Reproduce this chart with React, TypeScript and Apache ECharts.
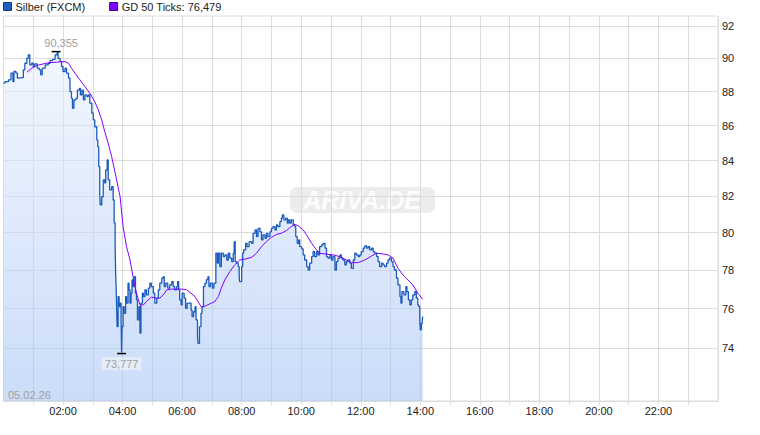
import React, { useEffect, useRef } from "react";
import * as echarts from "echarts";

// Silver price (FXCM), 05.02.26 — time in minutes since 00:00, price in USD
const priceTimes = [
  0, 3, 10, 15, 19, 21, 25, 28, 30, 37, 40, 43, 47, 50, 53, 57, 60, 63, 68, 72,
  75, 78, 84, 90, 94, 99, 104, 108, 110, 114, 117, 120, 124, 127, 131, 134, 137, 139, 142, 146,
  149, 153, 155, 158, 161, 164, 168, 171, 174, 178, 181, 184, 188, 190, 192, 194, 195, 198, 201, 204,
  206, 209, 211, 214, 218, 221, 223, 225, 226, 227, 228, 229, 231, 233, 235, 237, 238, 239, 241, 243,
  246, 248, 251, 253, 255, 257, 259, 261, 263, 266, 268, 270, 273, 275, 277, 280, 282, 285, 288, 292,
  295, 298, 302, 305, 309, 312, 315, 319, 322, 324, 327, 331, 335, 339, 342, 345, 349, 351, 353, 355,
  358, 360, 364, 367, 370, 374, 378, 380, 383, 386, 388, 391, 392, 395, 398, 400, 403, 406, 409, 412,
  414, 417, 421, 424, 428, 431, 433, 436, 439, 443, 446, 450, 453, 456, 460, 463, 465, 467, 470, 473,
  475, 476, 480, 482, 484, 488, 491, 495, 500, 503, 507, 510, 513, 517, 520, 523, 527, 530, 533, 537,
  540, 543, 547, 550, 553, 557, 560, 562, 565, 569, 572, 574, 577, 580, 584, 587, 589, 592, 595, 597,
  601, 604, 607, 611, 614, 617, 621, 624, 627, 631, 634, 637, 641, 644, 648, 651, 654, 658, 661, 664,
  668, 671, 674, 678, 681, 684, 688, 691, 694, 698, 701, 705, 708, 711, 715, 718, 721, 725, 728, 732,
  735, 738, 742, 745, 748, 752, 755, 758, 762, 765, 768, 772, 775, 778, 782, 785, 788, 792, 795, 799,
  801, 803, 807, 811, 813, 816, 819, 822, 825, 829, 832, 835, 837, 839, 840, 842, 844, 845,
];
const priceValues = [
  88.51, 88.6, 88.71, 89.11, 88.6, 89.21, 89.11, 88.81, 88.84, 88.84, 89.31, 89.71, 90.01, 90.22, 89.61, 89.71, 89.51, 89.67, 89.41, 89.31,
  89.01, 89.41, 89.61, 89.71, 89.87, 89.95, 90.22, 90.355, 90.01, 89.81, 89.51, 89.21, 89.41, 89.11, 88.81, 88.0, 87.61, 87.02, 87.51, 87.61,
  88.1, 88.2, 87.81, 88.1, 87.51, 87.81, 87.71, 87.81, 87.32, 86.73, 86.34, 85.94, 85.18, 84.79, 83.65, 82.16, 81.52, 81.97, 82.91, 82.74,
  83.47, 84.03, 82.91, 82.35, 82.53, 81.79, 80.53, 79.25, 77.85, 77.14, 76.1, 75.08, 76.62, 76.1, 76.28, 75.42, 73.777, 75.08, 76.1, 75.76,
  76.62, 76.28, 77.32, 76.97, 76.28, 76.8, 77.49, 77.14, 77.66, 76.8, 76.45, 75.42, 76.1, 74.75, 76.28, 76.8, 76.62, 76.97, 76.71, 77.06,
  77.32, 77.14, 76.8, 76.28, 76.54, 76.97, 77.32, 77.58, 77.66, 77.14, 77.32, 77.06, 77.23, 77.4, 77.14, 76.97, 77.14, 77.4, 76.97, 76.45,
  76.19, 76.8, 76.54, 76.02, 76.28, 76.28, 75.93, 75.59, 75.84, 76.1, 75.42, 74.57, 74.24, 75.08, 75.76, 76.1, 77.14, 77.32, 77.5, 77.66,
  77.14, 77.32, 77.06, 77.32, 78.9, 78.37, 78.9, 78.19, 78.9, 78.72, 78.81, 78.54, 78.9, 78.64, 78.45, 78.9, 79.52, 78.45, 78.37, 78.19,
  77.66, 77.4, 78.19, 78.9, 79.08, 79.43, 79.25, 79.52, 79.43, 79.97, 80.15, 79.79, 80.24, 80.05, 79.61, 79.88, 79.7, 79.97, 79.79, 80.05,
  80.24, 80.33, 80.15, 80.42, 80.33, 80.6, 80.79, 80.97, 80.7, 80.79, 80.52, 80.7, 80.52, 80.7, 80.42, 80.33, 79.79, 79.43, 79.61, 79.25,
  79.13, 78.81, 78.54, 78.19, 78.01, 78.37, 78.72, 78.99, 78.72, 78.99, 78.81, 79.25, 79.34, 79.43, 79.17, 78.72, 78.64, 78.81, 78.54, 78.72,
  78.01, 78.45, 78.64, 78.81, 78.64, 78.54, 78.28, 78.45, 78.54, 78.37, 78.1, 78.54, 78.9, 78.81, 78.72, 78.81, 78.99, 79.17, 79.29, 79.17,
  79.25, 79.08, 79.17, 78.99, 78.9, 78.72, 78.45, 78.19, 78.37, 78.28, 78.19, 78.37, 78.54, 78.64, 78.45, 78.19, 78.01, 77.58, 77.23, 76.62,
  76.28, 76.88, 76.71, 77.14, 76.88, 76.45, 76.19, 76.45, 76.71, 76.88, 76.54, 76.19, 76.1, 75.42, 74.92, 75.25, 75.42, 75.59,
];

// GD 50 Ticks (moving average)
const maTimes = [
  47, 57, 67, 80, 94, 107, 117, 124, 131, 137, 144, 154, 164, 174, 184, 191, 198, 204, 211, 218,
  228, 235, 241, 248, 255, 261, 268, 275, 282, 288, 298, 309, 315, 322, 329, 339, 349, 359, 369, 376,
  386, 392, 399, 409, 419, 425, 433, 439, 446, 456, 466, 476, 486, 500, 510, 520, 530, 540, 550, 560,
  570, 580, 587, 594, 604, 611, 621, 631, 637, 651, 664, 678, 691, 701, 715, 728, 742, 752, 765, 775,
  785, 795, 805, 815, 825, 835, 845,
];
const maValues = [
  89.17, 89.41, 89.57, 89.67, 89.75, 89.77, 89.81, 89.81, 89.71, 89.41, 89.11, 88.71, 88.31, 87.91, 87.41, 86.92, 86.34, 85.66, 84.99, 84.22,
  82.91, 81.97, 80.33, 79.25, 78.54, 77.66, 76.8, 76.19, 76.19, 76.36, 76.59, 76.54, 76.54, 76.71, 76.97, 77.01, 77.01, 77.01, 76.97, 76.83,
  76.62, 76.36, 76.07, 76.16, 76.29, 76.34, 76.62, 77.06, 77.49, 77.92, 78.28, 78.54, 78.58, 78.68, 78.9, 79.25, 79.52, 79.75, 79.91, 79.97,
  80.11, 80.33, 80.46, 80.37, 80.15, 79.88, 79.43, 79.08, 78.9, 78.85, 78.81, 78.72, 78.54, 78.4, 78.4, 78.54, 78.75, 78.9, 78.86, 78.81,
  78.64, 78.1, 77.75, 77.49, 77.23, 76.8, 76.479,
];

const yTicks = [74, 76, 78, 80, 82, 84, 86, 88, 90, 92];
const yMin = 71.4;
const yMax = 92.62;
const priceName = "Silber (FXCM)";
const maName = "GD 50 Ticks: 76,479";
const dateLabel = "05.02.26";

const fmtComma = (v: number) => v.toFixed(3).replace(".", ",");

export default function App() {
  const ref = useRef<HTMLDivElement>(null);
  useEffect(() => {
    if (!ref.current) return;
    const chart = echarts.init(ref.current, undefined, { renderer: "svg" });
    const ln = Math.log;
    const font = "Liberation Sans, Arial, sans-serif";
    chart.setOption({
      animation: false,
      backgroundColor: "#fff",
      textStyle: { fontFamily: font },
      legend: {
        left: 3,
        top: 1,
        padding: 0,
        itemWidth: 8,
        itemHeight: 8,
        itemGap: 24,
        icon: "rect",
        textStyle: { fontSize: 11, color: "#222", fontFamily: font, padding: [0, 0, 0, -1] },
        data: [
          { name: priceName, itemStyle: { color: "#1f5fbf", borderColor: "#123a78", borderWidth: 1 } },
          { name: maName, itemStyle: { color: "#8000ff", borderColor: "#3a0077", borderWidth: 1 } },
        ],
      },
      grid: {
        left: 3.5,
        right: 42,
        top: 16,
        bottom: 34,
        show: true,
        borderColor: "#dcdcdc",
        borderWidth: 1,
        containLabel: false,
      },
      graphic: [
        {
          type: "group",
          left: 290,
          top: 187,
          children: [
            {
              type: "rect",
              shape: { x: 0, y: 0, width: 145, height: 26, r: 7 },
              style: { fill: "rgba(195,195,195,0.32)" },
            },
            {
              type: "text",
              x: 72,
              y: 13,
              style: {
                text: "ARIVA.DE",
                fill: "rgba(255,255,255,0.95)",
                font: "italic bold 25px " + font,
                align: "center",
                verticalAlign: "middle",
              },
            },
          ],
        },
        {
          type: "text",
          left: 8,
          top: 389,
          z: 10,
          style: { text: dateLabel, fill: "#a0a0a0", font: "11px " + font },
        },
      ],
      xAxis: {
        type: "value",
        min: 0,
        max: 1440,
        interval: 60,
        axisLine: { show: true, lineStyle: { color: "#dcdcdc" } },
        axisTick: { show: true, length: 4, lineStyle: { color: "#dcdcdc" } },
        splitLine: { show: true, lineStyle: { color: "#dcdcdc" } },
        axisLabel: {
          margin: 4,
          fontSize: 11,
          color: "#222",
          fontFamily: font,
          showMinLabel: false,
          showMaxLabel: false,
          formatter: (v: number) => {
            if (v % 120 !== 0 || v === 0 || v === 1440) return "";
            const h = v / 60;
            return (h < 10 ? "0" : "") + h + ":00";
          },
        },
      },
      yAxis: {
        type: "value",
        position: "right",
        min: ln(yMin),
        max: ln(yMax),
        axisLine: { show: false },
        axisTick: { show: false, customValues: yTicks.map(ln) },
        splitLine: { show: true, lineStyle: { color: "#dcdcdc" } },
        axisLabel: {
          customValues: yTicks.map(ln),
          margin: 4,
          fontSize: 11,
          color: "#222",
          fontFamily: font,
          formatter: (v: number) => String(Math.round(Math.exp(v))),
        },
      },
      series: [
        {
          name: priceName,
          type: "line",
          step: "end",
          data: priceTimes.map((t, i) => [t, ln(priceValues[i])]),
          showSymbol: false,
          symbol: "none",
          lineStyle: { color: "#1a5bbd", width: 1.3 },
          itemStyle: { color: "#1a5bbd" },
          areaStyle: {
            origin: "start",
            color: new echarts.graphic.LinearGradient(0, 0, 0, 1, [
              { offset: 0, color: "rgba(232,240,253,0.8)" },
              { offset: 1, color: "rgba(160,192,244,0.78)" },
            ]),
          },
          z: 3,
          markPoint: {
            symbol: "rect",
            symbolSize: [9, 1.5],
            itemStyle: { color: "#000" },
            data: [
              {
                type: "max",
                symbolOffset: [-1, -1],
                label: {
                  show: true,
                  position: "top",
                  distance: 2,
                  color: "#a0a0a0",
                  fontSize: 11,
                  fontFamily: font,
                  offset: [5, 0],
                  formatter: (p: any) => fmtComma(Math.exp(p.value)),
                },
              },
              {
                type: "min",
                symbolOffset: [0, 1],
                label: {
                  show: true,
                  position: "bottom",
                  distance: 3,
                  color: "#a0a0a0",
                  fontSize: 11,
                  fontFamily: font,
                  backgroundColor: "rgba(232,238,248,0.85)",
                  padding: [1, 3, 1, 3],
                  formatter: (p: any) => fmtComma(Math.exp(p.value)),
                },
              },
            ],
          },
        },
        {
          name: maName,
          type: "line",
          data: maTimes.map((t, i) => [t, ln(maValues[i])]),
          showSymbol: false,
          symbol: "none",
          lineStyle: { color: "#8000ff", width: 1 },
          itemStyle: { color: "#8000ff" },
          z: 4,
        },
      ],
    });
    return () => chart.dispose();
  }, []);
  return (
    <div
      ref={ref}
      style={{ position: "fixed", left: 0, top: 0, width: 760, height: 435 }}
    />
  );
}
